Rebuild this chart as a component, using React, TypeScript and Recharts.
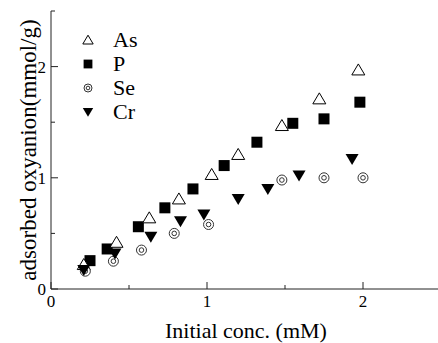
import { ScatterChart, Scatter, XAxis, YAxis, Legend } from "recharts";

const FONT = "Liberation Serif, DejaVu Serif, serif";

// series values
const asX = [0.21, 0.42, 0.63, 0.82, 1.03, 1.2, 1.48, 1.72, 1.97];
const asY = [0.22, 0.42, 0.64, 0.81, 1.03, 1.21, 1.47, 1.71, 1.97];

const pX = [0.25, 0.36, 0.56, 0.73, 0.91, 1.11, 1.32, 1.55, 1.75, 1.98];
const pY = [0.255, 0.36, 0.56, 0.73, 0.9, 1.11, 1.32, 1.49, 1.53, 1.68];

const seX = [0.22, 0.4, 0.58, 0.79, 1.01, 1.48, 1.75, 2.0];
const seY = [0.16, 0.25, 0.35, 0.5, 0.58, 0.98, 1.0, 1.0];

const crX = [0.21, 0.41, 0.64, 0.83, 0.98, 1.2, 1.39, 1.59, 1.93];
const crY = [0.17, 0.32, 0.47, 0.61, 0.67, 0.81, 0.9, 1.02, 1.17];

const xTicks = [0, 0.5, 1, 1.5, 2, 2.5];
const yTicks = [0, 0.5, 1, 1.5, 2, 2.5];

const legendNames = ["As", "P", "Se", "Cr"];

const toPoints = (xs: number[], ys: number[]) => xs.map((x, i) => ({ x, y: ys[i] }));

type Kind = "As" | "P" | "Se" | "Cr";

const Marker = ({ kind, cx, cy, s = 1 }: { kind: Kind; cx: number; cy: number; s?: number }) => {
  if (kind === "As") {
    const pts = `${cx},${cy - 6 * s} ${cx - 6.5 * s},${cy + 5 * s} ${cx + 6.5 * s},${cy + 5 * s}`;
    return <polygon points={pts} fill="#fff" stroke="#000" strokeWidth={1} />;
  }
  if (kind === "P") {
    const h = 5.5 * s;
    return <rect x={cx - h} y={cy - h} width={2 * h} height={2 * h} fill="#000" />;
  }
  if (kind === "Se") {
    return (
      <g>
        <circle cx={cx} cy={cy} r={5 * s} fill="#fff" stroke="#333" strokeWidth={1} />
        <circle cx={cx} cy={cy} r={2.3 * s} fill="none" stroke="#333" strokeWidth={1} />
      </g>
    );
  }
  const pts = `${cx - 6.5 * s},${cy - 5 * s} ${cx + 6.5 * s},${cy - 5 * s} ${cx},${cy + 6 * s}`;
  return <polygon points={pts} fill="#000" />;
};

const shapeFor = (kind: Kind) => (props: any) => <Marker kind={kind} cx={props.cx} cy={props.cy} />;

const textStyle = { fontFamily: FONT };

const BottomTick = (props: any) => {
  const { x, y, payload } = props;
  const major = payload.value % 1 === 0;
  return (
    <g>
      <line x1={x} x2={x} y1={y} y2={y - (major ? 7 : 4)} stroke="#222" />
      {major && payload.value < 2.5 && (
        <text x={x} y={y + 18} textAnchor="middle" fontSize={17} style={textStyle} fill="#000">
          {payload.value}
        </text>
      )}
    </g>
  );
};

const TopTick = (props: any) => {
  const { x, y, payload } = props;
  const major = payload.value % 1 === 0;
  return <line x1={x} x2={x} y1={y} y2={y + (major ? 7 : 4)} stroke="#222" />;
};

const LeftTick = (props: any) => {
  const { x, y, payload } = props;
  const major = payload.value % 1 === 0;
  return (
    <g>
      <line x1={x} x2={x + (major ? 7 : 4)} y1={y} y2={y} stroke="#222" />
      {major && payload.value < 2.5 && (
        <text x={x - 5} y={y + 6} textAnchor="end" fontSize={17} style={textStyle} fill="#000">
          {payload.value}
        </text>
      )}
    </g>
  );
};

const RightTick = (props: any) => {
  const { x, y, payload } = props;
  const major = payload.value % 1 === 0;
  return <line x1={x} x2={x - (major ? 7 : 4)} y1={y} y2={y} stroke="#222" />;
};

const LegendBox = () => (
  <div style={{ fontFamily: FONT, fontSize: 22, color: "#000" }}>
    {legendNames.map((name) => (
      <div key={name} style={{ display: "flex", alignItems: "center", height: 24 }}>
        <svg width={14} height={14} style={{ marginRight: 18 }}>
          <Marker kind={name as Kind} cx={7} cy={7} s={0.8} />
        </svg>
        <span style={{ lineHeight: "24px" }}>{name}</span>
      </div>
    ))}
  </div>
);

export default function App() {
  return (
    <div
      style={{
        position: "absolute",
        left: 0,
        top: 0,
        width: 438,
        height: 343,
        overflow: "hidden",
        background: "#fff",
        fontFamily: FONT,
      }}
    >
      <ScatterChart width={442} height={343} margin={{ top: 11, right: 1, bottom: 0, left: 0 }}>
        <XAxis
          type="number"
          dataKey="x"
          xAxisId="b"
          domain={[0, 2.5]}
          ticks={xTicks}
          interval={0}
          height={54}
          tickSize={0}
          tickMargin={0}
          tickLine={false}
          axisLine={{ stroke: "#222" }}
          tick={<BottomTick />}
          label={(p: any) => (
            <text
              x={p.viewBox.x + p.viewBox.width / 2}
              y={p.viewBox.y + 49}
              textAnchor="middle"
              fontSize={22}
              style={textStyle}
              fill="#000"
            >
              Initial conc. (mM)
            </text>
          )}
        />
        <XAxis
          type="number"
          dataKey="x"
          xAxisId="t"
          orientation="top"
          domain={[0, 2.5]}
          ticks={xTicks}
          interval={0}
          height={0}
          tickSize={0}
          tickMargin={0}
          tickLine={false}
          axisLine={{ stroke: "#222" }}
          tick={<TopTick />}
        />
        <YAxis
          type="number"
          dataKey="y"
          yAxisId="l"
          domain={[0, 2.5]}
          ticks={yTicks}
          interval={0}
          width={51}
          tickSize={0}
          tickMargin={0}
          tickLine={false}
          axisLine={{ stroke: "#222" }}
          tick={<LeftTick />}
          label={(p: any) => {
            const cy = p.viewBox.y + p.viewBox.height / 2;
            return (
              <text
                x={28}
                y={cy}
                textAnchor="middle"
                dominantBaseline="central"
                fontSize={23}
                style={textStyle}
                fill="#000"
                transform={`rotate(-90, 28, ${cy})`}
              >
                adsorbed oxyanion(mmol/g)
              </text>
            );
          }}
        />
        <YAxis
          type="number"
          dataKey="y"
          yAxisId="r"
          orientation="right"
          domain={[0, 2.5]}
          ticks={yTicks}
          interval={0}
          width={0}
          tickSize={0}
          tickMargin={0}
          tickLine={false}
          axisLine={{ stroke: "#222" }}
          tick={<RightTick />}
        />
        <Legend
          layout="vertical"
          align="center"
          verticalAlign="middle"
          content={<LegendBox />}
          wrapperStyle={{ left: 81, top: 28, width: 80 }}
        />
        <Scatter name="P" data={toPoints(pX, pY)} xAxisId="b" yAxisId="l" shape={shapeFor("P")} isAnimationActive={false} />
        <Scatter name="As" data={toPoints(asX, asY)} xAxisId="b" yAxisId="l" shape={shapeFor("As")} isAnimationActive={false} />
        <Scatter name="Se" data={toPoints(seX, seY)} xAxisId="b" yAxisId="l" shape={shapeFor("Se")} isAnimationActive={false} />
        <Scatter name="Cr" data={toPoints(crX, crY)} xAxisId="b" yAxisId="l" shape={shapeFor("Cr")} isAnimationActive={false} />
      </ScatterChart>
    </div>
  );
}
